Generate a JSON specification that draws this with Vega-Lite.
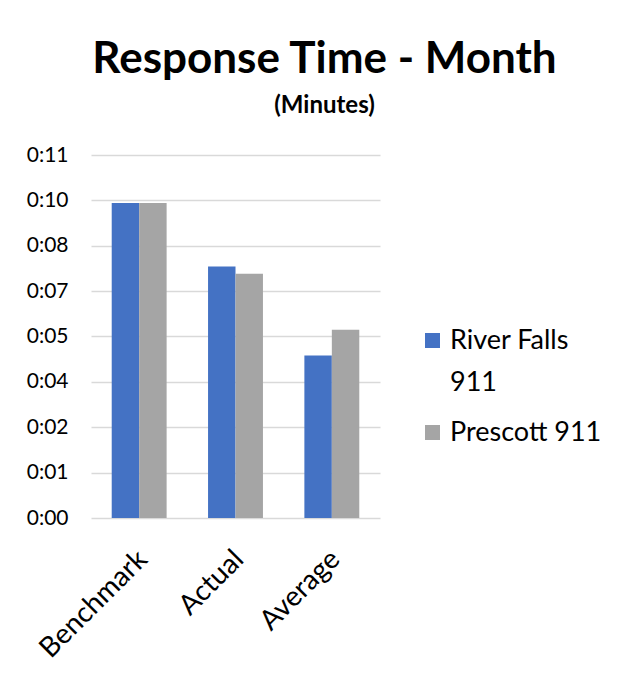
{
  "$schema": "https://vega.github.io/schema/vega-lite/v6.json",
  "autosize": {"type": "none"},
  "width": 289,
  "height": 363,
  "padding": {"left": 91, "top": 155, "right": 257, "bottom": 165},
  "background": "white",
  "title": {
    "text": "Response Time - Month",
    "subtitle": "(Minutes)",
    "anchor": "middle",
    "dx": 89,
    "font": "Lato",
    "fontSize": 44,
    "fontWeight": "bold",
    "color": "#000000",
    "subtitleFont": "Lato",
    "subtitleFontSize": 24,
    "subtitleFontWeight": "bold",
    "subtitleColor": "#000000",
    "subtitlePadding": 12,
    "offset": 26
  },
  "data": {
    "values": [
      {"category": "Benchmark", "series": "River Falls 911", "seconds": 9.92},
      {"category": "Benchmark", "series": "Prescott 911", "seconds": 9.92},
      {"category": "Actual", "series": "River Falls 911", "seconds": 7.92},
      {"category": "Actual", "series": "Prescott 911", "seconds": 7.69},
      {"category": "Average", "series": "River Falls 911", "seconds": 5.12},
      {"category": "Average", "series": "Prescott 911", "seconds": 5.93}
    ]
  },
  "mark": {"type": "bar"},
  "encoding": {
    "x": {
      "field": "category",
      "type": "nominal",
      "sort": ["Benchmark", "Actual", "Average"],
      "scale": {"paddingInner": 0.43, "paddingOuter": 0.215},
      "axis": {
        "title": null,
        "domain": false,
        "ticks": false,
        "labelAngle": -45,
        "labelAlign": "right",
        "labelBaseline": "middle",
        "labelFont": "Lato",
        "labelFontSize": 28,
        "labelColor": "#000000",
        "labelPadding": 37,
        "labelOffset": 4,
        "grid": false
      }
    },
    "xOffset": {
      "field": "series",
      "type": "nominal",
      "sort": ["River Falls 911", "Prescott 911"],
      "scale": {"paddingInner": 0, "paddingOuter": 0}
    },
    "y": {
      "field": "seconds",
      "type": "quantitative",
      "scale": {"domain": [0, 11.428571], "nice": false, "zero": true},
      "axis": {
        "title": null,
        "domain": false,
        "ticks": false,
        "values": [0, 1.428571, 2.857143, 4.285714, 5.714286, 7.142857, 8.571429, 10, 11.428571],
        "labelExpr": "'0:' + (floor(datum.value + 0.001) < 10 ? '0' : '') + floor(datum.value + 0.001)",
        "labelFont": "Lato",
        "labelFontSize": 21,
        "labelColor": "#000000",
        "labelPadding": 23,
        "grid": true,
        "gridColor": "#D9D9D9",
        "gridWidth": 1.5
      }
    },
    "color": {
      "field": "series",
      "type": "nominal",
      "sort": ["River Falls 911", "Prescott 911"],
      "scale": {"domain": ["River Falls 911", "Prescott 911"], "range": ["#4472C4", "#A5A5A5"]},
      "legend": {
        "title": null,
        "orient": "none",
        "legendX": 328,
        "legendY": 172,
        "symbolType": "square",
        "symbolSize": 225,
        "symbolStrokeWidth": 0,
        "labelFont": "Lato",
        "labelFontSize": 27,
        "labelColor": "#000000",
        "labelOffset": 4,
        "rowPadding": 22,
        "labelLimit": 220,
        "labelExpr": "datum.label == 'River Falls 911' ? ['River Falls', '911'] : datum.label",
        "encode": {"labels": {"update": {"lineHeight": {"value": 42}}}}
      }
    }
  },
  "config": {
    "view": {"stroke": null}
  }
}
